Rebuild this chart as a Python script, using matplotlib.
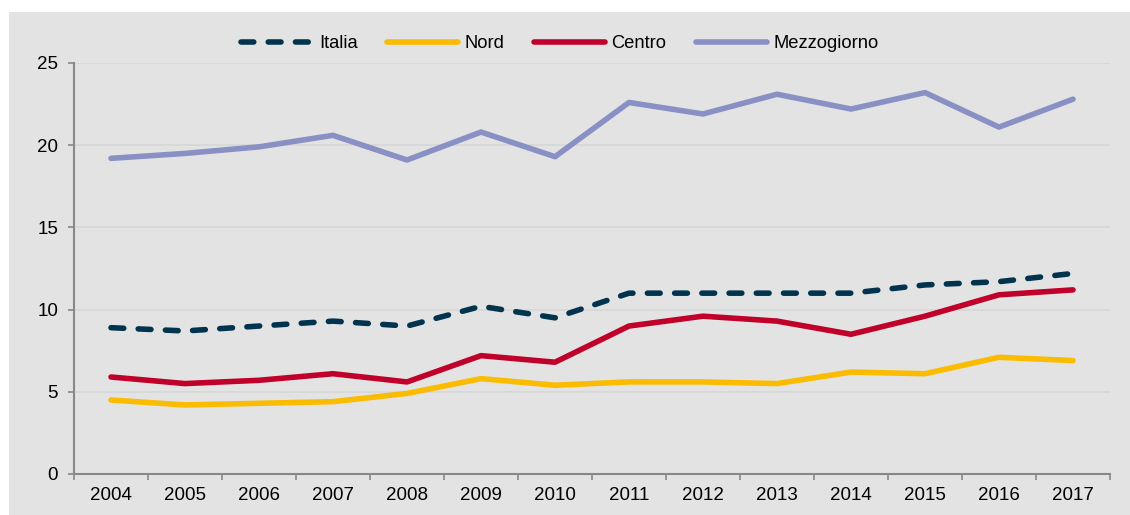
import matplotlib.pyplot as plt
from matplotlib.patches import Rectangle

plt.rcParams['font.family'] = ['Liberation Sans', 'DejaVu Sans']

years = ["2004", "2005", "2006", "2007", "2008", "2009", "2010",
         "2011", "2012", "2013", "2014", "2015", "2016", "2017"]
italia = [8.9, 8.7, 9.0, 9.3, 9.0, 10.2, 9.5, 11.0, 11.0, 11.0, 11.0, 11.5, 11.7, 12.2]
nord = [4.5, 4.2, 4.3, 4.4, 4.9, 5.8, 5.4, 5.6, 5.6, 5.5, 6.2, 6.1, 7.1, 6.9]
centro = [5.9, 5.5, 5.7, 6.1, 5.6, 7.2, 6.8, 9.0, 9.6, 9.3, 8.5, 9.6, 10.9, 11.2]
mezzogiorno = [19.2, 19.5, 19.9, 20.6, 19.1, 20.8, 19.3, 22.6, 21.9, 23.1, 22.2, 23.2, 21.1, 22.8]

bg = "#e3e3e3"
fig = plt.figure(figsize=(11.3, 5.15), dpi=100)
fig.patch.set_facecolor("white")
fig.add_artist(Rectangle((9 / 1130, 0), 1, 1 - 12 / 515, transform=fig.transFigure,
                         facecolor=bg, edgecolor="none", zorder=-10))

ax = fig.add_axes([74 / 1130, 1 - 474 / 515, (1110 - 74) / 1130, (474 - 63) / 515])
ax.set_facecolor(bg)

x = list(range(len(years)))
lw = 4.0
ax.plot(x, italia, color="#00334e", lw=lw, dashes=(2.3, 2.6), dash_capstyle="round",
        solid_capstyle="round", label="Italia", zorder=3)
ax.plot(x, nord, color="#fbbc00", lw=lw, solid_capstyle="round", label="Nord", zorder=3)
ax.plot(x, centro, color="#c0002a", lw=lw, solid_capstyle="round", label="Centro", zorder=3)
ax.plot(x, mezzogiorno, color="#8890c4", lw=lw, solid_capstyle="round", label="Mezzogiorno", zorder=3)

ax.set_ylim(0, 25)
ax.set_yticks([0, 5, 10, 15, 20, 25])
ax.set_xlim(-0.5, len(years) - 0.5)
ax.set_xticks(x)
ax.set_xticklabels(years)
ax.set_xticks([i - 0.5 for i in range(len(years) + 1)], minor=True)
ax.tick_params(axis="x", which="major", length=0, pad=9, labelsize=13.5)
ax.tick_params(axis="x", which="minor", length=4.5, color="#888888", width=1.2)
ax.tick_params(axis="y", length=4.5, color="#888888", width=1.2, labelsize=13.5, pad=7)

ax.grid(axis="y", color="#d6d6d6", lw=1.2, zorder=1)
for s in ["top", "right"]:
    ax.spines[s].set_visible(False)
for s in ["left", "bottom"]:
    ax.spines[s].set_color("#888888")
    ax.spines[s].set_linewidth(1.5)

ax.legend(loc="center", bbox_to_anchor=(0.469, 1 + 19 / 411), ncol=4, frameon=False,
          fontsize=13.2, handlelength=3.9, handletextpad=0.33, columnspacing=1.6,
          borderaxespad=0, borderpad=0)

fig.savefig("out.png", dpi=100, facecolor=fig.get_facecolor())
